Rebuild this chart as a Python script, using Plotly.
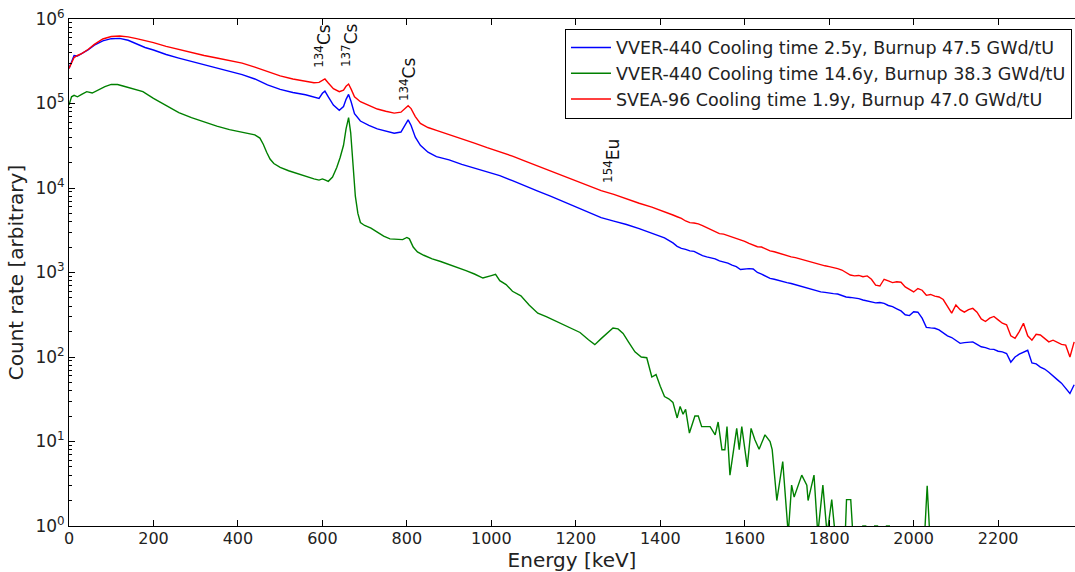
import plotly.graph_objects as go
import numpy as np

# energy channels [keV] shared by the two high-activity spectra
energy = [0, 6, 12, 20, 30, 45, 60, 80, 100, 120,
          140, 160, 180, 200, 230, 260, 290, 320, 350, 380,
          410, 440, 470, 500, 530, 560, 580, 592, 600, 606,
          614, 626, 640, 650, 656, 662, 668, 676, 690, 710,
          730, 750, 770, 786, 796, 803, 810, 820, 832, 850,
          870, 900, 930, 960, 990, 1020, 1050, 1080, 1110, 1140,
          1170, 1200, 1230, 1260, 1290, 1320, 1350, 1380, 1400,
          1410, 1420, 1430, 1440, 1450, 1460, 1470, 1480, 1490, 1500,
          1510, 1520, 1530, 1540, 1550, 1560, 1570, 1580, 1590, 1600,
          1610, 1620, 1630, 1640, 1650, 1660, 1670, 1680, 1690, 1700,
          1710, 1720, 1730, 1740, 1750, 1760, 1770, 1780, 1790, 1800,
          1810, 1820, 1830, 1840, 1850, 1860, 1870, 1880, 1890, 1900,
          1910, 1920, 1930, 1940, 1950, 1960, 1970, 1980, 1990, 2000,
          2010, 2020, 2030, 2040, 2050, 2060, 2070, 2080, 2090, 2100,
          2110, 2120, 2130, 2140, 2150, 2160, 2170, 2180, 2190, 2200,
          2210, 2220, 2230, 2240, 2250, 2260, 2270, 2280, 2290, 2300,
          2310, 2320, 2330, 2340, 2350, 2360, 2370, 2380]

vver_2_5y = [2.6e5, 3.1e5, 3.7e5, 3.65e5, 3.9e5, 4.3e5, 4.9e5, 5.5e5, 5.85e5, 5.9e5,
             5.6e5, 5.1e5, 4.6e5, 4.3e5, 3.8e5, 3.45e5, 3.15e5, 2.85e5, 2.6e5, 2.4e5,
             2.2e5, 1.95e5, 1.66e5, 1.47e5, 1.35e5, 1.27e5, 1.18e5, 1.15e5, 1.32e5, 1.4e5,
             1.2e5, 9.6e4, 8.3e4, 9.2e4, 1.12e5, 1.28e5, 1.05e5, 7.6e4, 6.2e4, 5.5e4,
             5.0e4, 4.7e4, 4.45e4, 4.6e4, 5.6e4, 6.4e4, 5.5e4, 4.0e4, 3.2e4, 2.65e4,
             2.35e4, 2.15e4, 1.9e4, 1.72e4, 1.57e4, 1.4e4, 1.22e4, 1.05e4, 9.2e3, 8.0e3,
             6.9e3, 5.9e3, 5.1e3, 4.45e3, 4.05e3, 3.7e3, 3.3e3, 2.9e3, 2.65e3,
             2570, 2400, 2240, 2040, 1930, 1880, 1800, 1780, 1660, 1580,
             1530, 1480, 1450, 1370, 1330, 1290, 1220, 1175, 1085, 1100,
             1110, 1100, 1000, 955, 902, 851, 832, 804, 785, 759,
             741, 716, 692, 676, 646, 631, 610, 589, 582, 569,
             562, 556, 537, 513, 507, 501, 490, 473, 462, 442,
             437, 442, 432, 407, 394, 372, 351, 316, 309, 343,
             339, 288, 224, 221, 219, 209, 191, 178, 170, 155,
             145, 148, 150, 151, 141, 132, 129, 124, 123, 117,
             115, 110, 87, 100, 108, 115, 120, 85, 83, 76,
             72, 66, 59, 54, 49, 42, 37, 47]

svea_1_9y = [2.6e5, 3.0e5, 3.5e5, 3.7e5, 3.9e5, 4.35e5, 5.0e5, 5.8e5, 6.2e5, 6.3e5,
             6.15e5, 5.85e5, 5.55e5, 5.25e5, 4.75e5, 4.35e5, 4.0e5, 3.7e5, 3.45e5, 3.25e5,
             3.0e5, 2.7e5, 2.38e5, 2.12e5, 1.95e5, 1.83e5, 1.76e5, 1.78e5, 1.9e5, 1.95e5,
             1.75e5, 1.5e5, 1.38e5, 1.44e5, 1.6e5, 1.7e5, 1.48e5, 1.2e5, 1.05e5, 9.4e4,
             8.6e4, 8.1e4, 7.7e4, 7.9e4, 8.9e4, 9.4e4, 8.7e4, 7.0e4, 5.8e4, 5.2e4,
             4.8e4, 4.3e4, 3.85e4, 3.4e4, 3.0e4, 2.7e4, 2.38e4, 2.08e4, 1.82e4, 1.58e4,
             1.4e4, 1.23e4, 1.07e4, 9.3e3, 8.4e3, 7.4e3, 6.6e3, 5.95e3, 5.5e3,
             5250, 5010, 4790, 4570, 4370, 4070, 3890, 3850, 3760, 3590,
             3390, 3240, 3090, 2880, 2850, 2750, 2630, 2510, 2430, 2340,
             2210, 2090, 2020, 2000, 1910, 1800, 1760, 1700, 1620, 1580,
             1530, 1500, 1450, 1400, 1350, 1330, 1260, 1240, 1200, 1175,
             1150, 1110, 1070, 1000, 933, 912, 923, 891, 912, 832,
             708, 692, 832, 794, 759, 776, 767, 676, 631, 589,
             646, 617, 537, 550, 525, 513, 479, 398, 331, 412,
             363, 339, 363, 376, 339, 282, 263, 288, 302, 275,
             251, 240, 178, 166, 200, 251, 178, 158, 186, 182,
             166, 151, 158, 148, 141, 138, 100, 151]

# the old (14.6 y) assembly: own channel list, None = empty channel
energy_old = [0, 6, 12, 20, 30, 42, 55, 70, 85, 100,
              115, 130, 150, 175, 200, 230, 260, 290, 320, 350,
              380, 410, 440, 452, 460, 468, 476, 485, 500, 520,
              540, 560, 580, 592, 600, 606, 614, 624, 634, 642,
              650, 656, 662, 667, 672, 678, 684, 690, 700, 715,
              730, 745, 760, 775, 790, 800, 806, 815, 825, 840,
              860, 880, 900, 920, 940, 960, 980, 1000, 1010, 1020,
              1035, 1050, 1070, 1090, 1110, 1130, 1150, 1170, 1190, 1210,
              1230, 1245, 1260, 1275, 1288, 1300, 1312, 1325, 1340, 1355,
              1368, 1380, 1390, 1400, 1410, 1420, 1430, 1440, 1447, 1454,
              1460, 1469, 1482, 1490, 1498, 1510, 1518, 1530, 1537, 1546,
              1553, 1558, 1565, 1581, 1587, 1593, 1606, 1615, 1624, 1634,
              1648, 1660, 1665, 1676, 1690, 1703, 1711, 1717, 1735, 1747,
              1750, 1764, 1773, 1785, 1795, 1806, 1814, 1826, 1838, 1841,
              1851, 1856, 1866, 1878, 1888, 1896, 1906, 1916, 1924, 1934,
              1944, 2020, 2026, 2032, 2038, 2046]

vver_14_6y = [9.6e4, 1.2e5, 1.25e5, 1.2e5, 1.28e5, 1.38e5, 1.33e5, 1.45e5, 1.58e5, 1.68e5,
              1.68e5, 1.6e5, 1.5e5, 1.38e5, 1.15e5, 9.5e4, 7.8e4, 6.8e4, 6.0e4, 5.4e4,
              4.9e4, 4.6e4, 4.25e4, 3.9e4, 3.3e4, 2.65e4, 2.2e4, 1.95e4, 1.75e4, 1.6e4,
              1.48e4, 1.37e4, 1.28e4, 1.24e4, 1.28e4, 1.25e4, 1.2e4, 1.35e4, 1.75e4, 2.3e4,
              3.2e4, 5.0e4, 6.8e4, 4.5e4, 1.9e4, 8.0e3, 5.0e3, 3.9e3, 3.6e3, 3.35e3,
              3.0e3, 2.7e3, 2.5e3, 2.45e3, 2.45e3, 2.6e3, 2.5e3, 2.0e3, 1.75e3, 1.6e3,
              1.45e3, 1.35e3, 1.25e3, 1.15e3, 1.05e3, 960, 860, 920, 950, 800,
              720, 600, 530, 410, 330, 300, 270, 245, 220, 195,
              160, 140, 165, 190, 220, 215, 190, 150, 115, 100,
              98, 58, 62, 45, 34, 32, 29, 19, 26, 21,
              24, 12.6, 20, 20, 15, 15, 15, 12, 17, 8,
              8, 15, 4, 14.3, 8, 15, 5, 14.3, 10.5, 8.1,
              12, 10, 8, 2, 5.8, 0.8, 3.05, 2.2, 4, 3.05,
              2, 4, 0.8, 3.05, 0.8, 2.05, 0.8, None, 0.8, 2.05,
              2.05, 0.8, None, 1, 1, None, 1, 1, None, 1,
              1, None, 0.8, 3.0, 0.8, None]

assert len(energy) == len(vver_2_5y) == len(svea_1_9y)
assert len(energy_old) == len(vver_14_6y)

names = ["VVER-440 Cooling time 2.5y, Burnup 47.5 GWd/tU",
         "VVER-440 Cooling time 14.6y, Burnup 38.3 GWd/tU",
         "SVEA-96 Cooling time 1.9y, Burnup 47.0 GWd/tU"]

# peak labels
peak_names = ["<sup>134</sup>Cs", "<sup>137</sup>Cs", "<sup>134</sup>Cs", "<sup>154</sup>Eu"]
peak_energy = [601, 665, 803, 1286]
peak_count = [4.8e5, 4.9e5, 1.95e5, 2.1e4]

x_ticks = [0, 200, 400, 600, 800, 1000, 1200, 1400, 1600, 1800, 2000, 2200]
y_ticks = [1, 10, 100, 1e3, 1e4, 1e5, 1e6]
y_ticktext = ["10<sup>%d</sup>" % i for i in range(7)]

FONT = "DejaVu Sans"

fig = go.Figure()
fig.add_trace(go.Scatter(x=energy, y=vver_2_5y, mode="lines", name=names[0],
                         line=dict(color="#0000ff", width=1.4)))
fig.add_trace(go.Scatter(x=energy_old, y=vver_14_6y, mode="lines", name=names[1],
                         line=dict(color="#008000", width=1.4)))
fig.add_trace(go.Scatter(x=energy, y=svea_1_9y, mode="lines", name=names[2],
                         line=dict(color="#ff0000", width=1.4)))

for txt, e, c in zip(peak_names, peak_energy, peak_count):
    fig.add_annotation(x=e, y=np.log10(c), xref="x", yref="y", text=txt,
                       textangle=-90, showarrow=False,
                       font=dict(family=FONT, size=17, color="#111"))

fig.update_layout(
    width=1075, height=572,
    margin=dict(l=69, r=0, t=19, b=46),
    paper_bgcolor="white", plot_bgcolor="white",
    font=dict(family=FONT, size=17, color="#222"),
    legend=dict(x=0.997, y=0.981, xanchor="right", yanchor="top",
                bgcolor="white", bordercolor="black", borderwidth=1,
                font=dict(size=17.5), tracegroupgap=0, itemwidth=40),
)
fig.update_xaxes(range=[0, 2382], tickvals=x_ticks, ticks="inside", ticklen=6,
                 tickcolor="black", showline=True, linecolor="black", linewidth=1,
                 mirror="ticks", showgrid=False, zeroline=False, automargin=False,
                 tickfont=dict(size=16), ticklabelstandoff=-2,
                 title=dict(text="Energy [keV]", standoff=6))
fig.update_yaxes(type="log", range=[0, 6], tickvals=y_ticks, ticktext=y_ticktext,
                 ticks="inside", ticklen=6, tickcolor="black", showline=True,
                 linecolor="black", linewidth=1, showgrid=False, zeroline=False,
                 automargin=False,
                 minor=dict(ticks="inside", ticklen=3, tickcolor="black", dtick="D1"),
                 title=dict(text="Count rate [arbitrary]", standoff=6))

# the page body has an 8px default margin that would shift the whole figure
fig.write_html("out.html", config={"displayModeBar": False},
               post_script="document.body.style.margin='0';")
